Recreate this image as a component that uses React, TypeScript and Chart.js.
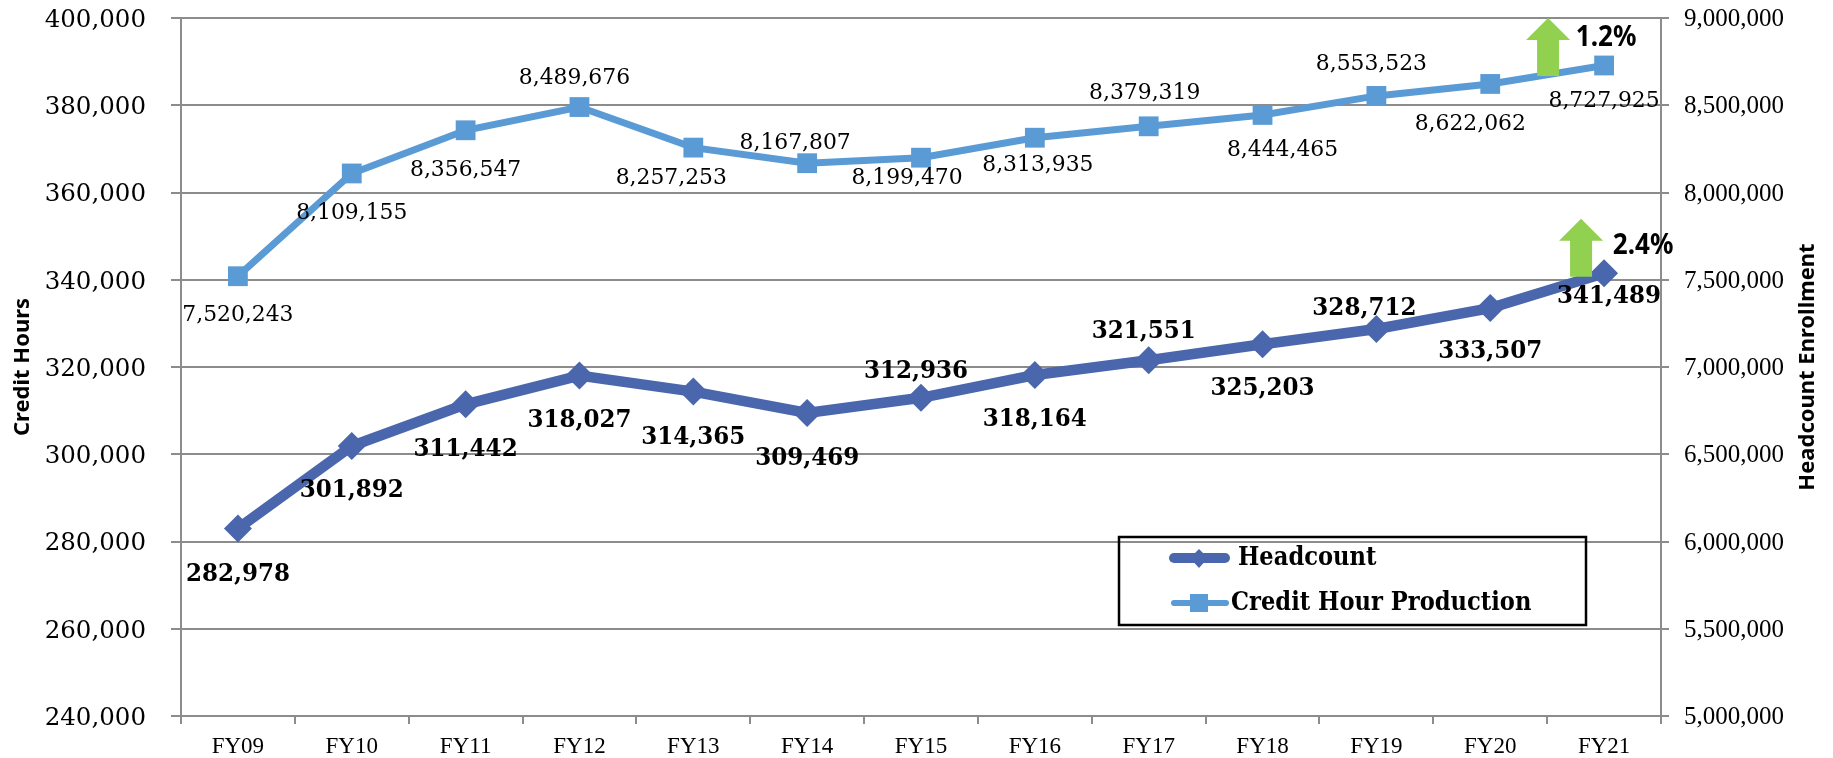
import React, { useEffect, useRef } from "react";
import { Chart, registerables } from "chart.js";

Chart.register(...registerables);

const categories = ["FY09", "FY10", "FY11", "FY12", "FY13", "FY14", "FY15", "FY16", "FY17", "FY18", "FY19", "FY20", "FY21"];
const headcount = [282978, 301892, 311442, 318027, 314365, 309469, 312936, 318164, 321551, 325203, 328712, 333507, 341489];
const creditHours = [7520243, 8109155, 8356547, 8489676, 8257253, 8167807, 8199470, 8313935, 8379319, 8444465, 8553523, 8622062, 8727925];

// label placement relative to each point
const headcountLabelOffsets = [[0, 44], [0, 43], [0, 44], [0, 43], [0, 44], [0, 44], [-5, -28], [0, 43], [-5, -30], [0, 43], [-12, -22], [0, 42], [5, 22]];
const creditLabelOffsets = [[0, 37], [0, 38], [0, 38], [-5, -31], [-22, 29], [-12, -22], [-14, 19], [3, 26], [-4, -35], [20, 34], [-5, -33], [-20, 39], [0, 34]];

const SERIF = '"DejaVu Serif"';
const LIB = '"Liberation Serif"';
const SANS = '"Noto Sans"';
const GRID = "#8c8c8c";
const DARK = "#4A66AC";
const LIGHT = "#5B9BD5";
const GREEN = "#92D050";

const fmt = (v: number) => Number(v).toLocaleString("en-US");

const overlay = {
  id: "overlay",
  afterDatasetsDraw(chart: any) {
    const { ctx, scales } = chart;
    const x = scales.x, y = scales.y, y1 = scales.y1;
    const text = (s: string, px: number, py: number, sx: number) => {
      ctx.save();
      ctx.translate(px, py);
      ctx.scale(sx, 1);
      ctx.fillText(s, 0, 0);
      ctx.restore();
    };
    ctx.save();
    ctx.textAlign = "center";
    ctx.textBaseline = "middle";
    ctx.fillStyle = "#000";

    ctx.font = `23px ${SERIF}`;
    creditHours.forEach((v, i) => {
      const [dx, dy] = creditLabelOffsets[i];
      text(fmt(v), x.getPixelForValue(i) + dx, y1.getPixelForValue(v) + dy + 1.5, 0.95);
    });
    ctx.font = `bold 25px ${SERIF}`;
    headcount.forEach((v, i) => {
      const [dx, dy] = headcountLabelOffsets[i];
      text(fmt(v), x.getPixelForValue(i) + dx, y.getPixelForValue(v) + dy + 1.5, 0.92);
    });

    const arrow = (cx: number, tip: number) => {
      ctx.fillStyle = GREEN;
      ctx.beginPath();
      ctx.moveTo(cx, tip);
      ctx.lineTo(cx + 22, tip + 22);
      ctx.lineTo(cx + 11, tip + 22);
      ctx.lineTo(cx + 11, tip + 58);
      ctx.lineTo(cx - 11, tip + 58);
      ctx.lineTo(cx - 11, tip + 22);
      ctx.lineTo(cx - 22, tip + 22);
      ctx.closePath();
      ctx.fill();
    };
    const last = categories.length - 1;
    const lx = x.getPixelForValue(last);
    arrow(lx - 56, y1.getPixelForValue(9000000));
    arrow(lx - 23, y.getPixelForValue(340000) - 61);
    ctx.fillStyle = "#000";
    ctx.font = `bold 28px ${SANS}`;
    text("1.2%", lx + 2, 38, 0.93);
    text("2.4%", lx + 39, 246, 0.93);

    // right axis title reads bottom to top
    ctx.save();
    ctx.font = `bold 22px ${SANS}`;
    ctx.translate(1808, (chart.chartArea.top + chart.chartArea.bottom) / 2);
    ctx.rotate(-Math.PI / 2);
    ctx.fillText("Headcount Enrollment", 0, 0);
    ctx.restore();

    // legend
    ctx.strokeStyle = "#000";
    ctx.lineWidth = 2.5;
    ctx.strokeRect(1119, 537, 467, 88);
    ctx.lineCap = "round";
    ctx.strokeStyle = DARK;
    ctx.lineWidth = 10;
    ctx.beginPath(); ctx.moveTo(1174, 558); ctx.lineTo(1225, 558); ctx.stroke();
    ctx.fillStyle = DARK;
    ctx.beginPath(); ctx.moveTo(1199, 549); ctx.lineTo(1208, 558); ctx.lineTo(1199, 568); ctx.lineTo(1190, 558); ctx.closePath(); ctx.fill();
    ctx.strokeStyle = LIGHT;
    ctx.lineWidth = 6;
    ctx.beginPath(); ctx.moveTo(1174, 603); ctx.lineTo(1226, 603); ctx.stroke();
    ctx.fillStyle = LIGHT;
    ctx.fillRect(1190, 594, 18, 18);
    ctx.fillStyle = "#000";
    ctx.textAlign = "left";
    ctx.font = `bold 26px ${SERIF}`;
    text(chart.data.datasets[0].label, 1238, 558, 0.87);
    text(chart.data.datasets[1].label, 1231, 603, 0.87);
    ctx.restore();
  },
};

const flatten = (w: number) => (s: any) => { s.width = w; s.paddingTop = 0; s.paddingBottom = 0; };
// a blank first line nudges the tick text down a little, to sit centred on its gridline
const nudged = (v: any) => ["", fmt(v)];

export default function App() {
  const ref = useRef<HTMLCanvasElement>(null);
  useEffect(() => {
    const chart = new Chart(ref.current as HTMLCanvasElement, {
      type: "line",
      data: {
        labels: categories,
        datasets: [
          { label: "Headcount", data: headcount, yAxisID: "y", borderColor: DARK, backgroundColor: DARK, borderWidth: 10.5, pointStyle: "rectRot", pointRadius: 14, pointBorderWidth: 0, tension: 0 },
          { label: "Credit Hour Production", data: creditHours, yAxisID: "y1", borderColor: LIGHT, backgroundColor: LIGHT, borderWidth: 7, pointStyle: "rect", pointRadius: 14, pointBorderWidth: 0, tension: 0 },
        ],
      },
      options: {
        responsive: false,
        animation: false,
        layout: { padding: { top: 18, left: 0, right: 0, bottom: 0 }, autoPadding: false },
        plugins: { legend: { display: false }, tooltip: { enabled: false }, title: { display: false } },
        scales: {
          x: {
            type: "category",
            offset: true,
            grid: { offset: true, drawOnChartArea: false, drawTicks: true, tickLength: 8, color: GRID, lineWidth: 2 },
            border: { color: GRID, width: 2 },
            ticks: { color: "#000", font: { family: LIB, size: 23 }, padding: 9, maxRotation: 0, autoSkip: false },
            afterFit: (s: any) => { s.height = 42; s.paddingLeft = 0; s.paddingRight = 0; },
          },
          y: {
            position: "left",
            min: 240000,
            max: 400000,
            title: { display: true, text: "Credit Hours", color: "#000", font: { family: SANS, size: 22, weight: "bold" }, padding: { top: 10, bottom: 0 } },
            grid: { color: GRID, lineWidth: 2, tickLength: 10 },
            border: { color: GRID, width: 2 },
            ticks: { stepSize: 20000, autoSkip: false, color: "#000", font: { family: SERIF, size: 24.5, lineHeight: 0.2 }, padding: 25, callback: nudged },
            afterFit: flatten(181),
          },
          y1: {
            position: "right",
            min: 5000000,
            max: 9000000,
            grid: { drawOnChartArea: false, color: GRID, lineWidth: 2, tickLength: 8 },
            border: { color: GRID, width: 2 },
            ticks: { stepSize: 500000, autoSkip: false, color: "#000", font: { family: LIB, size: 25, lineHeight: 0.12 }, padding: 15, callback: nudged },
            afterFit: flatten(172),
          },
        },
      },
      plugins: [overlay],
    } as any);
    return () => chart.destroy();
  }, []);
  return (
    <div style={{ position: "fixed", left: 0, top: 0, width: 1833, height: 758, background: "#fff" }}>
      <canvas ref={ref} width={1833} height={758} style={{ display: "block" }} />
    </div>
  );
}
